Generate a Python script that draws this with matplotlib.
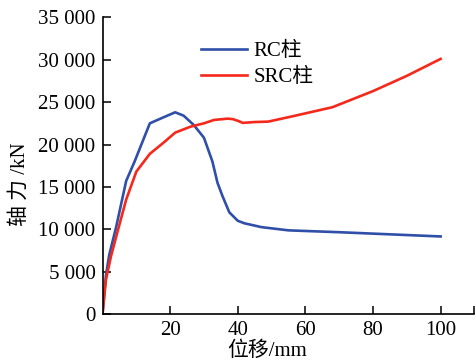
import numpy as np
import matplotlib
matplotlib.use("Agg")
import matplotlib.pyplot as plt

plt.rcParams['font.family'] = ['Liberation Serif', 'Noto Sans CJK SC']
plt.rcParams['font.size'] = 15

# 位移 (mm) 与 轴力 (kN)
rc_x = [0, 1, 2, 4, 7, 9.5, 14, 18, 21.5, 24, 27, 30, 32.5, 34, 35.5, 37.5, 40, 42, 47, 55, 70, 85, 100]
rc_y = [0, 4500, 7000, 10200, 15700, 18000, 22500, 23200, 23800, 23400, 22300, 20800,
        18000, 15500, 13900, 12000, 11000, 10700, 10250, 9870, 9650, 9400, 9150]
src_x = [0, 1, 2.5, 4.5, 7, 10, 14, 18, 21.5, 26, 30, 33, 37, 38.5, 40, 41.5, 45, 49, 57, 68, 80, 90, 100]
src_y = [0, 4000, 6800, 9800, 13500, 16800, 18900, 20200, 21400, 22100, 22500, 22900, 23050,
         23000, 22800, 22550, 22650, 22700, 23400, 24400, 26300, 28100, 30100]
yticks = [0, 5000, 10000, 15000, 20000, 25000, 30000, 35000]
xticks = [20, 40, 60, 80, 100]

fig = plt.figure(figsize=(4.75, 3.62), dpi=100)
ax = fig.add_axes([0.2158, 0.1326, 0.783, 0.8194])
ax.plot(rc_x, rc_y, color='#2f4fa8', lw=1.9, label='RC柱')
ax.plot(src_x, src_y, color='#f5281c', lw=1.9, label='SRC柱')

ax.set_xlim(0, 110)
ax.set_ylim(0, 35000)
ax.set_xticks(xticks)
ax.set_xticks([110], minor=True)
ax.set_yticks(yticks)
ax.set_yticklabels(['0'] + [f'{v // 1000} 000' for v in yticks[1:]])
ax.tick_params(direction='in', length=6, width=1.1, pad=5)
ax.tick_params(axis='x', which='minor', direction='in', length=6, width=1.1)
for s in ['top', 'right']:
    ax.spines[s].set_visible(False)
for s in ['left', 'bottom']:
    ax.spines[s].set_linewidth(1.2)

ax.legend(loc='upper left', bbox_to_anchor=(0.243, 0.947), frameon=False,
          handlelength=2.2, handletextpad=0.3, labelspacing=0.3, borderaxespad=0)

fig.text(0.042, 0.492, '轴 力 /kN', rotation=90, ha='center', va='center', fontsize=15)
fig.text(0.562, 0.03, '位移/mm', ha='center', va='center', fontsize=15)

fig.savefig('out.png', dpi=100)
